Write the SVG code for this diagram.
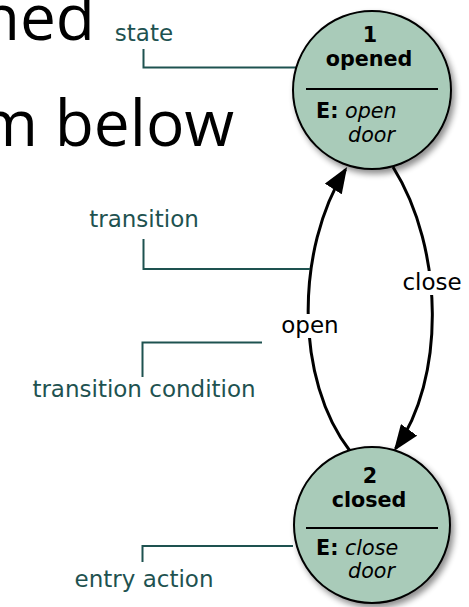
<svg xmlns="http://www.w3.org/2000/svg" width="469" height="607" viewBox="0 0 469 607">
<style>
.big{font-family:"Open Sans","Noto Sans",sans-serif;font-size:64px;fill:#000}
.ann{font-family:"DejaVu Sans",sans-serif;font-size:23px;fill:#1e5250;text-anchor:middle}
.aline{fill:none;stroke:#1e5250;stroke-width:2}
.st{fill:#a9cbb9;stroke:#000;stroke-width:2}
.nt{font-family:"DejaVu Sans",sans-serif;font-size:20.7px;fill:#000}
.b{font-weight:bold}
.i{font-style:italic}
.div{stroke:#000;stroke-width:2}
.tr{fill:none;stroke:#000;stroke-width:3}
.tl{font-family:"DejaVu Sans",sans-serif;font-size:23px;fill:#000;text-anchor:middle}
</style>
<defs>
<filter id="sh" x="-20%" y="-20%" width="150%" height="150%">
<feGaussianBlur in="SourceAlpha" stdDeviation="3"/>
<feOffset dx="3" dy="4" result="o"/>
<feComponentTransfer><feFuncA type="linear" slope="0.45"/></feComponentTransfer>
<feMerge><feMergeNode/><feMergeNode in="SourceGraphic"/></feMerge>
</filter>
<radialGradient id="g" cx="50%" cy="50%" r="50%">
<stop offset="0" stop-color="#a8cab7"/>
<stop offset="0.9" stop-color="#a9cbb9"/>
<stop offset="1" stop-color="#b6d5c5"/>
</radialGradient>
<marker id="ah" markerUnits="userSpaceOnUse" markerWidth="26" markerHeight="20" viewBox="0 0 26 20" refX="23" refY="10" orient="auto">
<path d="M0,0 L26,10 L0,20 z" fill="#000"/>
</marker>
</defs>
<g id="background-text">
<text class="big" x="95" y="40" text-anchor="end">ned</text>
<text class="big" x="234" y="146" text-anchor="end">m below</text>
</g>
<g id="connectors">
<path id="t-open" class="tr" d="M350,451 C295,380 295,250 345.5,169.5" marker-end="url(#ah)"/>
<path id="t-close" class="tr" d="M393,167 C445,250 445,380 395.6,448.5" marker-end="url(#ah)"/>
<rect x="279" y="314" width="62" height="24" fill="#fff"/>
<text class="tl" x="310" y="333">open</text>
<rect x="401" y="271" width="62" height="24" fill="#fff"/>
<text class="tl" x="432" y="290">close</text>
</g>
<g id="annotations">
<text class="ann" x="144" y="41">state</text>
<path class="aline" d="M143.5,49 V67.5 H296"/>
<text class="ann" x="144" y="227">transition</text>
<path class="aline" d="M143.5,239 V269 H310"/>
<text class="ann" x="144" y="397">transition condition</text>
<path class="aline" d="M142.5,377 V342.5 H262"/>
<text class="ann" x="144" y="587">entry action</text>
<path class="aline" d="M142.5,562 V546 H293"/>
</g>
<g id="state-opened">
<circle class="st" cx="372" cy="90" r="79" fill="url(#g)" filter="url(#sh)"/>
<text class="nt b" x="370" y="42" text-anchor="middle">1</text>
<text class="nt b" x="369" y="66" text-anchor="middle">opened</text>
<line class="div" x1="306" y1="89" x2="438" y2="89"/>
<text class="nt" x="316" y="118"><tspan class="b">E:</tspan> <tspan class="i">open</tspan></text>
<text class="nt i" x="348" y="142">door</text>
</g>
<g id="state-closed">
<circle class="st" cx="372" cy="525" r="78" fill="url(#g)" filter="url(#sh)"/>
<text class="nt b" x="370" y="483" text-anchor="middle">2</text>
<text class="nt b" x="369" y="507" text-anchor="middle">closed</text>
<line class="div" x1="306" y1="528" x2="438" y2="528"/>
<text class="nt" x="316" y="555"><tspan class="b">E:</tspan> <tspan class="i">close</tspan></text>
<text class="nt i" x="348" y="578">door</text>
</g>
</svg>
